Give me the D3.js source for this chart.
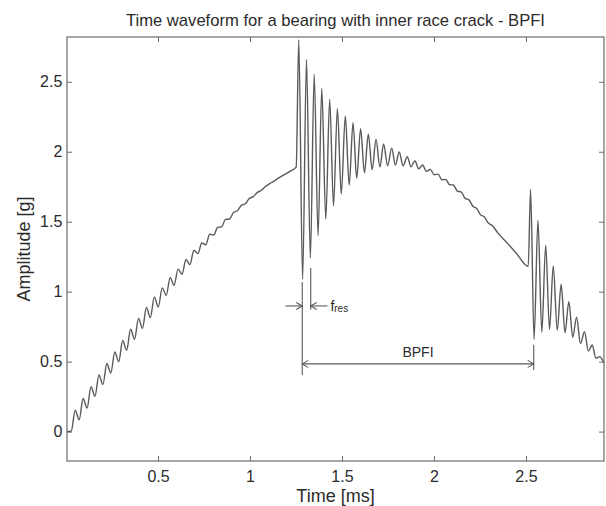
<!DOCTYPE html>
<html>
<head>
<meta charset="utf-8">
<script src="https://cdn.jsdelivr.net/npm/d3@7"></script>
<style>
  html, body { margin: 0; padding: 0; background: #fff; }
  svg { display: block; font-family: "Liberation Sans", Arial, sans-serif; }
</style>
</head>
<body>
<svg id="chart"></svg>
<script>
const width = 606;
const height = 506;
const margin = {top: 37, right: 2, bottom: 45, left: 67};

// waveform as [time ms, amplitude g] turning points
// slow rise with a small ripple, before the first impact
const rampPts = [
  [0.0054, 0.0], [0.0285, 0.004], [0.05, 0.153], [0.0715, 0.085], [0.093, 0.237], [0.1145, 0.169],
  [0.136, 0.321], [0.1575, 0.253], [0.179, 0.405], [0.2005, 0.336], [0.222, 0.487], [0.2435, 0.419],
  [0.265, 0.569], [0.2865, 0.5], [0.308, 0.651], [0.3295, 0.581], [0.351, 0.731], [0.3725, 0.66],
  [0.394, 0.809], [0.4155, 0.738], [0.437, 0.887], [0.4585, 0.815], [0.48, 0.963], [0.5015, 0.89],
  [0.523, 1.027], [0.5445, 0.974], [0.566, 1.1], [0.5875, 1.046], [0.609, 1.161], [0.6305, 1.125],
  [0.652, 1.23], [0.6735, 1.193], [0.695, 1.296], [0.7165, 1.272], [0.738, 1.348], [0.7595, 1.335],
  [0.781, 1.41], [0.8025, 1.405], [0.824, 1.46], [0.8455, 1.463], [0.867, 1.517], [0.8885, 1.519],
  [0.91, 1.566], [0.9315, 1.578], [0.953, 1.617], [0.9745, 1.628], [0.996, 1.666], [1.0175, 1.679],
  [1.039, 1.708], [1.0605, 1.723], [1.082, 1.75], [1.12, 1.782], [1.17, 1.824], [1.22, 1.862],
  [1.251, 1.89]
];

// first impact and its ringing
const burst1Pts = [
  [1.265, 2.8], [1.286, 1.09], [1.307, 2.66], [1.328, 1.24], [1.349, 2.553], [1.37, 1.4],
  [1.39, 2.453], [1.412, 1.518], [1.433, 2.376], [1.454, 1.614], [1.475, 2.31], [1.496, 1.697],
  [1.518, 2.255], [1.539, 1.762], [1.56, 2.207], [1.58, 1.81], [1.601, 2.164], [1.622, 1.85],
  [1.643, 2.126], [1.664, 1.872], [1.685, 2.089], [1.706, 1.89], [1.726, 2.055], [1.748, 1.9],
  [1.77, 2.026], [1.79, 1.905], [1.811, 1.998], [1.832, 1.9], [1.855, 1.964], [1.875, 1.892],
  [1.896, 1.936], [1.917, 1.878], [1.938, 1.905], [1.959, 1.86], [1.98, 1.874], [2.001, 1.836],
  [2.022, 1.84], [2.043, 1.8], [2.064, 1.802], [2.085, 1.764], [2.106, 1.762], [2.127, 1.719],
  [2.148, 1.712], [2.169, 1.667], [2.19, 1.656], [2.211, 1.611], [2.232, 1.594], [2.253, 1.549],
  [2.274, 1.534], [2.295, 1.491], [2.316, 1.473], [2.35, 1.415], [2.4, 1.345], [2.45, 1.27],
  [2.512, 1.18]
];

// second impact
const burst2Pts = [
  [2.525, 1.73], [2.544, 0.66], [2.565, 1.51], [2.586, 0.71], [2.607, 1.333], [2.628, 0.73],
  [2.648, 1.183], [2.67, 0.725], [2.691, 1.053], [2.712, 0.707], [2.733, 0.929], [2.754, 0.675],
  [2.775, 0.817], [2.796, 0.63], [2.818, 0.714], [2.839, 0.576], [2.86, 0.619], [2.88, 0.525],
  [2.901, 0.536], [2.924, 0.49]
];

const xDomain = [0.0054, 2.924];
const yDomain = [-0.21, 2.82];
const xTicks = [0.5, 1, 1.5, 2, 2.5];
const yTicks = [0, 0.5, 1, 1.5, 2, 2.5];

// annotation: impact markers, resonance period and BPFI span
const impactTimes = [1.284, 2.542];
const resTimes = [1.284, 1.33];
const resArrowY = 0.898;
const bpfiArrowY = 0.484;

const svg = d3.select("#chart")
  .attr("width", width)
  .attr("height", height);

const x = d3.scaleLinear()
  .domain(xDomain)
  .range([margin.left, width - margin.right]);

const y = d3.scaleLinear()
  .domain(yDomain)
  .range([height - margin.bottom, margin.top]);

const frameColor = "#6b6b6b";
const inkColor = "#5a5a5a";
const textColor = "#2b2b2b";

// axes, MATLAB style with ticks inside on all four sides
svg.append("g")
  .attr("transform", `translate(0,${height - margin.bottom})`)
  .call(d3.axisBottom(x).tickValues(xTicks).tickFormat(d3.format("")).tickSize(-5).tickSizeOuter(0).tickPadding(9.5));

svg.append("g")
  .attr("transform", `translate(0,${margin.top})`)
  .call(d3.axisTop(x).tickValues(xTicks).tickFormat("").tickSize(-5).tickSizeOuter(0));

svg.append("g")
  .attr("transform", `translate(${margin.left},0)`)
  .call(d3.axisLeft(y).tickValues(yTicks).tickFormat(d3.format("")).tickSize(-5).tickSizeOuter(0).tickPadding(4.7));

svg.append("g")
  .attr("transform", `translate(${width - margin.right},0)`)
  .call(d3.axisRight(y).tickValues(yTicks).tickFormat("").tickSize(-5).tickSizeOuter(0));

svg.selectAll(".domain").remove();
svg.selectAll(".tick line").attr("stroke", frameColor);
svg.selectAll(".tick text")
  .attr("fill", textColor)
  .style("font-size", "16px")
  .style("font-family", "'Liberation Sans', Arial, sans-serif");

svg.append("rect")
  .attr("x", margin.left)
  .attr("y", margin.top)
  .attr("width", width - margin.left - margin.right)
  .attr("height", height - margin.top - margin.bottom)
  .attr("fill", "none")
  .attr("stroke", frameColor)
  .attr("stroke-width", 1.2);

// waveform
const wave = rampPts.concat(burst1Pts, burst2Pts);

const line = d3.line()
  .x(d => x(d[0]))
  .y(d => y(d[1]))
  .curve(d3.curveMonotoneX);

svg.append("path")
  .datum(wave)
  .attr("d", line)
  .attr("fill", "none")
  .attr("stroke", inkColor)
  .attr("stroke-width", 1.4)
  .attr("stroke-linejoin", "round");

// annotations
const anno = svg.append("g")
  .attr("stroke", inkColor)
  .attr("stroke-width", 1.1)
  .attr("fill", "none");

function arrowHead(px, py, dir) {
  // open arrowhead, tip at (px, py), dir = +1 points right, -1 points left
  const l = 6, w = 3.5;
  return `M${px - dir * l},${py - w}L${px},${py}L${px - dir * l},${py + w}`;
}

anno.append("line")
  .attr("x1", x(impactTimes[0])).attr("x2", x(impactTimes[0]))
  .attr("y1", y(1.07)).attr("y2", y(0.405));

anno.append("line")
  .attr("x1", x(resTimes[1])).attr("x2", x(resTimes[1]))
  .attr("y1", y(1.17)).attr("y2", y(0.87));

anno.append("line")
  .attr("x1", x(impactTimes[1])).attr("x2", x(impactTimes[1]))
  .attr("y1", y(0.62)).attr("y2", y(0.44));

// resonance arrows pointing inwards
const ry = y(resArrowY);
anno.append("line").attr("x1", x(1.193)).attr("x2", x(resTimes[0])).attr("y1", ry).attr("y2", ry);
anno.append("path").attr("d", arrowHead(x(resTimes[0]), ry, 1));
anno.append("line").attr("x1", x(1.421)).attr("x2", x(resTimes[1])).attr("y1", ry).attr("y2", ry);
anno.append("path").attr("d", arrowHead(x(resTimes[1]), ry, -1));

// BPFI span
const by = y(bpfiArrowY);
anno.append("line").attr("x1", x(impactTimes[0])).attr("x2", x(impactTimes[1])).attr("y1", by).attr("y2", by);
anno.append("path").attr("d", arrowHead(x(impactTimes[0]), by, -1));
anno.append("path").attr("d", arrowHead(x(impactTimes[1]), by, 1));

const fres = svg.append("text")
  .attr("x", x(1.437))
  .attr("y", ry + 5.5)
  .attr("fill", textColor)
  .style("font-size", "14px");
fres.append("tspan").text("f");
fres.append("tspan").attr("dy", 1).style("font-size", "10px").text("res");

svg.append("text")
  .attr("x", x((impactTimes[0] + impactTimes[1]) / 2))
  .attr("y", by - 7)
  .attr("text-anchor", "middle")
  .attr("fill", textColor)
  .style("font-size", "14px")
  .text("BPFI");

// titles
svg.append("text")
  .attr("x", (margin.left + width - margin.right) / 2)
  .attr("y", 25.5)
  .attr("text-anchor", "middle")
  .attr("fill", textColor)
  .style("font-size", "16.6px")
  .text("Time waveform for a bearing with inner race crack - BPFI");

svg.append("text")
  .attr("x", (margin.left + width - margin.right) / 2)
  .attr("y", 502)
  .attr("text-anchor", "middle")
  .attr("fill", textColor)
  .style("font-size", "18px")
  .text("Time [ms]");

svg.append("text")
  .attr("transform", `translate(29.5,${(margin.top + height - margin.bottom) / 2}) rotate(-90)`)
  .attr("text-anchor", "middle")
  .attr("fill", textColor)
  .style("font-size", "18px")
  .text("Amplitude [g]");
</script>
</body>
</html>
